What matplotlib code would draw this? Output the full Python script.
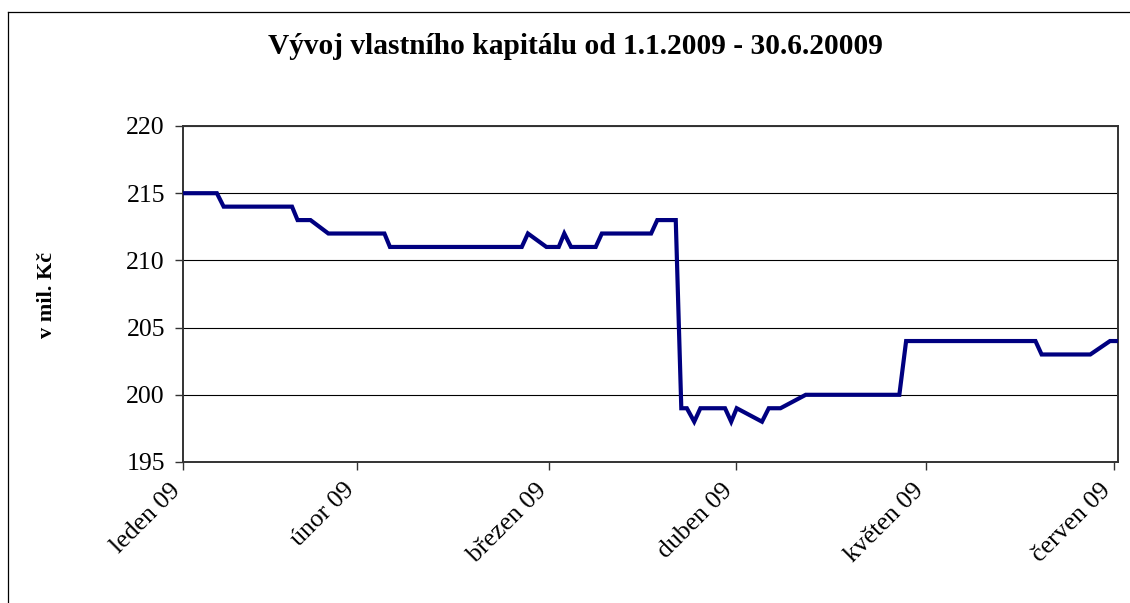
import matplotlib.pyplot as plt
import matplotlib.transforms as mtransforms
from matplotlib.lines import Line2D

# Data (x = days from start of axis, y = mil. Kc)
days = [0.0, 5.5, 6.6, 17.7, 18.6, 20.7, 23.6, 32.7, 33.6, 55.0, 56.0, 59.0,
        61.0, 61.9, 63.0, 67.0, 68.0, 76.0, 77.0, 80.0, 80.9, 81.8, 83.0, 84.0,
        88.0, 89.0, 89.9, 94.0, 95.1, 97.0, 101.1, 116.3, 117.4, 138.4, 139.4,
        147.3, 150.5, 151.5]
capital = [215, 215, 214, 214, 213, 213, 212, 212, 211, 211, 212, 211,
           211, 212, 211, 211, 212, 212, 213, 213, 199, 199, 198, 199,
           199, 198, 199, 198, 199, 199, 200, 200, 204, 204, 203,
           203, 204, 204]

month_pos = [0.0, 28.3, 59.4, 89.7, 120.7, 151.1]
month_labels = ['leden 09', 'únor 09', 'březen 09', 'duben 09', 'květen 09', 'červen 09']
y_ticks = [195, 200, 205, 210, 215, 220]

plt.rcParams['font.family'] = ['Liberation Serif', 'DejaVu Serif']

fig = plt.figure(figsize=(11.3, 6.03), dpi=100)
ax = fig.add_axes([183 / 1130, 1 - 462 / 603, (1118 - 183) / 1130, (462 - 126) / 603])

ax.plot(days, capital, color='#000080', linewidth=3.0, solid_joinstyle='miter', zorder=3)

ax.set_xlim(0, 151.8)
ax.set_ylim(195, 220)
ax.set_yticks(y_ticks)
ax.set_xticks(month_pos)
ax.set_xticklabels(month_labels, rotation=45, ha='right', va='center',
                   rotation_mode='anchor')
ax.yaxis.grid(True, color='black', linewidth=0.8)
ax.set_axisbelow(True)

ax.tick_params(axis='both', direction='out', length=6, width=1.0, color='#333333',
               labelsize=18.5)
ax.tick_params(axis='y', pad=7)
ax.tick_params(axis='x', pad=12)
shift = mtransforms.ScaledTranslation(-6 / 100, 0, fig.dpi_scale_trans)
for lbl in ax.get_xticklabels():
    lbl.set_transform(lbl.get_transform() + shift)
for side in ['left', 'bottom', 'top', 'right']:
    ax.spines[side].set_color('#333333')
    ax.spines[side].set_linewidth(1.4)

fig.text(575 / 1130, 1 - 47 / 603, 'Vývoj vlastního kapitálu od 1.1.2009 - 30.6.20009',
         ha='center', va='center', fontsize=21.2, fontweight='bold')
fig.text(47 / 1130, 1 - 295 / 603, 'v mil. Kč', rotation=90, ha='center', va='center',
         fontsize=16, fontweight='bold')

# outer chart frame (only left and top edges are in view)
fig.add_artist(Line2D([8 / 1130, 8 / 1130], [0, 1 - 12 / 603], transform=fig.transFigure,
                      color='black', linewidth=0.9))
fig.add_artist(Line2D([8 / 1130, 1], [1 - 12 / 603, 1 - 12 / 603], transform=fig.transFigure,
                      color='black', linewidth=0.9))

fig.savefig('out.png', dpi=100)
